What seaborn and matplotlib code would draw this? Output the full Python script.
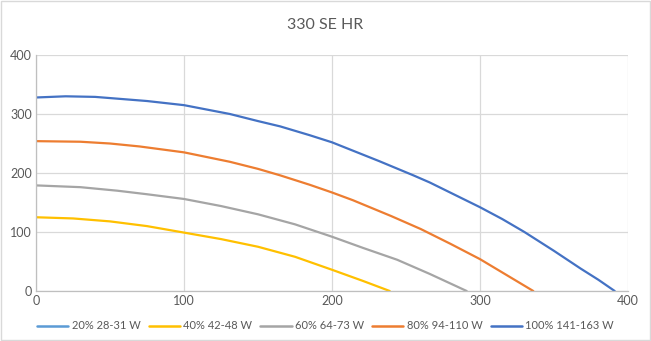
import matplotlib
matplotlib.use("Agg")
import matplotlib.pyplot as plt
from matplotlib.lines import Line2D
import seaborn as sns
import pandas as pd

title = "330 SE HR"
series_names = ["20% 28-31 W", "40% 42-48 W", "60% 64-73 W", "80% 94-110 W", "100% 141-163 W"]
colors = ["#5B9BD5", "#FFC000", "#A5A5A5", "#ED7D31", "#4472C4"]

x20 = []
y20 = []
x40 = [0, 25, 50, 75, 100, 125, 150, 175, 200, 221, 239]
y40 = [125, 123, 118, 110, 99, 88, 75, 58, 36, 17, 0]
x60 = [0, 30, 55, 75, 100, 125, 150, 175, 200, 221, 244, 266, 291]
y60 = [179, 176, 170, 164, 156, 144, 130, 113, 92, 73, 53, 29, 0]
x80 = [0, 30, 50, 70, 100, 131, 150, 165, 185, 200, 214, 240, 260, 280, 300, 320, 336]
y80 = [254, 253, 250, 245, 235, 219, 207, 196, 180, 167, 154, 127, 105, 80, 54, 24, 0]
x100 = [0, 20, 40, 55, 75, 100, 131, 150, 165, 185, 200, 232, 255, 266, 300, 315, 330, 350, 368, 380, 391]
y100 = [328, 330, 329, 326, 322, 315, 300, 288, 279, 264, 252, 220, 196, 184, 142, 122, 100, 68, 38, 19, 0]

xs = [x20, x40, x60, x80, x100]
ys = [y20, y40, y60, y80, y100]

rows = []
for name, xx, yy in zip(series_names, xs, ys):
    for a, b in zip(xx, yy):
        rows.append({"x": a, "y": b, "series": name})
df = pd.DataFrame(rows)

sns.set_theme(style="white")
plt.rcParams['font.family'] = ['Lato', 'DejaVu Sans']

fig = plt.figure(figsize=(6.51, 3.41), dpi=100)
ax = fig.add_axes([0.0553, 0.1466, 0.9094, 0.6921])

present = [n for n in series_names if n in set(df["series"])]
pal = {n: c for n, c in zip(series_names, colors)}
sns.lineplot(data=df, x="x", y="y", hue="series", hue_order=present, palette=pal,
             sort=False, estimator=None, linewidth=1.6, ax=ax, legend=False)
for ln in ax.get_lines():
    ln.set_solid_joinstyle("round")

ax.set_xlim(0, 400)
ax.set_ylim(0, 400)
ax.set_xticks([0, 100, 200, 300, 400])
ax.set_yticks([0, 100, 200, 300, 400])
ax.grid(True, color="#D9D9D9", linewidth=0.9)
ax.set_axisbelow(True)
for s in ["top", "right"]:
    ax.spines[s].set_visible(False)
for s in ["left", "bottom"]:
    ax.spines[s].set_color("#BFBFBF")
    ax.spines[s].set_linewidth(0.9)
ax.tick_params(axis="both", length=0, labelsize=9, colors="#595959", pad=3)
ax.set_xlabel("")
ax.set_ylabel("")

fig.text(0.5, 0.928, title, ha="center", va="center", fontsize=11.5, color="#595959")

handles = [Line2D([0], [0], color=c, linewidth=1.8) for c in colors]
fig.legend(handles, series_names, loc="center", bbox_to_anchor=(0.5, 0.044), ncol=5,
           frameon=False, fontsize=8, labelcolor="#595959", handlelength=2.8,
           handletextpad=0.3, columnspacing=0.75, borderpad=0, borderaxespad=0)

border = plt.Rectangle((0.001, 0.002), 0.997, 0.995, transform=fig.transFigure,
                       fill=False, edgecolor="#D9D9D9", linewidth=1)
fig.patches.append(border)

fig.savefig("out.png", dpi=100)
